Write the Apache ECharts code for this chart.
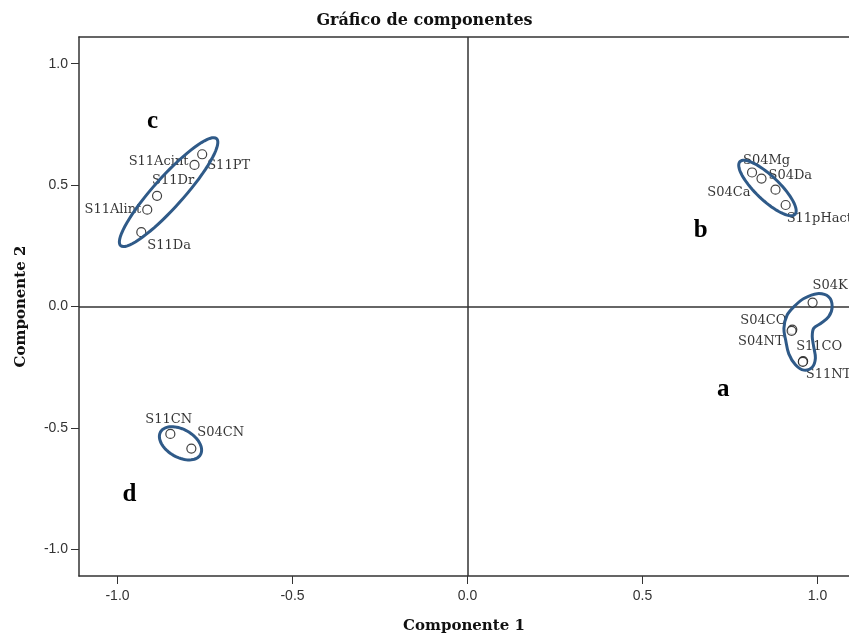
<!DOCTYPE html>
<html>
<head>
<meta charset="utf-8">
<script src="https://cdn.jsdelivr.net/npm/echarts@6/dist/echarts.min.js"></script>
<style>
html,body{margin:0;padding:0;background:#fff;}
#chart{width:849px;height:639px;}
</style>
</head>
<body>
<div id="chart"></div>
<script>
// ---- data ----
const pointNames = ['S11PT','S11Acint','S11Dr','S11Alint','S11Da',
  'S04Mg','S04Da','S04Ca','S11pHact',
  'S04K','S04CO','S04NT','S11CO','S11NT',
  'S11CN','S04CN'];
const comp1 = [-0.758,-0.780,-0.887,-0.915,-0.932,
  0.813,0.840,0.880,0.909,
  0.986,0.928,0.926,0.959,0.958,
  -0.849,-0.789];
const comp2 = [0.627,0.583,0.456,0.399,0.306,
  0.552,0.527,0.481,0.418,
  0.016,-0.095,-0.100,-0.225,-0.228,
  -0.525,-0.585];
const tickValues = [-1.0,-0.5,0.0,0.5,1.0];
const groupLetters = ['c','b','a','d'];
const letterX = [-0.90,0.666,0.731,-0.966];
const letterY = [0.762,0.311,-0.344,-0.775];
// ellipse annotations (data space): center x, center y, half-major dx, dy, half-minor dx, dy
const ellipseCX = [-0.854, 0.857, -0.820];
const ellipseCY = [0.471, 0.488, -0.5635];
const ellipseAX = [0.137, 0.0786, 0.0569];
const ellipseAY = [0.2205, -0.1086, -0.0471];
const ellipseBX = [0.032, -0.0237, -0.020];
const ellipseBY = [-0.041, -0.0352, -0.0496];
// free-hand outline around group a (data space)
const blobX = [0.961,0.999,1.032,1.042,1.032,1.009,0.989,0.985,0.989,0.994,0.985,0.961,0.937,0.918,0.909,0.904,0.913,0.937];
const blobY = [0.033,0.053,0.040,-0.001,-0.042,-0.070,-0.090,-0.124,-0.165,-0.213,-0.250,-0.262,-0.240,-0.195,-0.138,-0.090,-0.036,0.005];

// ---- label placement (style) ----
const labelPlace = {
  'S11PT':['left',5,11], 'S11Acint':['right',-6,-3], 'S11Dr':['left',-5,-15],
  'S11Alint':['right',-6,0], 'S11Da':['left',6,13],
  'S04Mg':['left',-9,-12], 'S04Da':['left',7,-3], 'S04Ca':['right',-25,3], 'S11pHact':['left',1,14],
  'S04K':['left',0,-17], 'S04CO':['right',-6,-9], 'S04NT':['right',-8,11],
  'S11CO':['left',-7,-15], 'S11NT':['left',3,13],
  'S11CN':['left',-25,-14], 'S04CN':['left',6,-16]
};

const serif = '"DejaVu Serif", "Liberation Serif", serif';
const sans = '"Liberation Sans", Arial, sans-serif';
const outline = '#2f5a88';
const frame = {color:'#333', width:1.5};

const pts = pointNames.map((n,i)=>{
  const p = labelPlace[n];
  return {name:n, value:[comp1[i],comp2[i]],
    label:{align:p[0], offset:[p[1],p[2]]}};
});

const chart = echarts.init(document.getElementById('chart'), null, {renderer:'canvas'});
chart.setOption({
  animation:false,
  backgroundColor:'#fff',
  title:{text:'Gráfico de componentes', left:'center', top:8,
    textStyle:{fontFamily:serif, fontWeight:'bold', fontSize:16, color:'#111'}},
  grid:{left:79, right:0, top:37, bottom:49, containLabel:false},
  xAxis:[{type:'value', min:-1.11, max:1.09,
    name:'Componente 1', nameLocation:'middle', nameGap:43,
    nameTextStyle:{fontFamily:serif, fontWeight:'bold', fontSize:15, color:'#111'},
    axisLine:{show:true, onZero:false, lineStyle:frame},
    axisTick:{show:true, length:8, customValues:tickValues, lineStyle:{color:'#333'}},
    axisLabel:{customValues:tickValues, margin:13, fontFamily:sans, fontSize:14, color:'#333',
      formatter:v=>v.toFixed(1)},
    splitLine:{show:false}},
   {type:'value', position:'top', min:-1.11, max:1.09,
    axisLine:{show:true, onZero:false, lineStyle:frame},
    axisTick:{show:false}, axisLabel:{show:false}, splitLine:{show:false}}],
  yAxis:{type:'value', min:-1.11, max:1.11,
    name:'Componente 2', nameLocation:'middle', nameGap:50, nameRotate:90,
    nameTextStyle:{fontFamily:serif, fontWeight:'bold', fontSize:15, color:'#111'},
    axisLine:{show:true, onZero:false, lineStyle:frame},
    axisTick:{show:true, length:8, customValues:tickValues, lineStyle:{color:'#333'}},
    axisLabel:{customValues:tickValues, margin:11, fontFamily:sans, fontSize:14, color:'#333',
      formatter:v=>v.toFixed(1)},
    splitLine:{show:false}},
  series:[
    {type:'scatter', data:pts, symbol:'circle', symbolSize:9, z:5,
      itemStyle:{color:'#fff', borderColor:'#111', borderWidth:1.2},
      label:{show:true, position:'inside', formatter:'{b}', verticalAlign:'middle',
        fontFamily:serif, fontSize:13, color:'#000'},
      markLine:{silent:true, symbol:'none', label:{show:false},
        lineStyle:{color:'#333', width:1.5, type:'solid'},
        data:[{xAxis:0},{yAxis:0}]}
    },
    {type:'custom', z:6, silent:true,
      data:ellipseCX.map((c,i)=>[c, ellipseCY[i], ellipseAX[i], ellipseAY[i], ellipseBX[i], ellipseBY[i]]),
      renderItem:function(params, api){
        const cx=api.value(0), cy=api.value(1), ax=api.value(2), ay=api.value(3), bx=api.value(4), by=api.value(5);
        const points=[];
        for(let k=0;k<72;k++){
          const t=k/72*Math.PI*2;
          points.push(api.coord([cx+ax*Math.cos(t)+bx*Math.sin(t), cy+ay*Math.cos(t)+by*Math.sin(t)]));
        }
        return {type:'polygon', shape:{points:points}, style:{fill:null, stroke:outline, lineWidth:3}};
      }
    },
    {type:'custom', z:6, silent:true,
      data:[0],
      renderItem:function(params, api){
        const points=blobX.map((x,i)=>api.coord([x, blobY[i]]));
        return {type:'polygon', shape:{points:points, smooth:0.35}, style:{fill:null, stroke:outline, lineWidth:3}};
      }
    },
    {type:'custom', z:7, silent:true,
      data:groupLetters.map((l,i)=>[letterX[i], letterY[i], l]),
      renderItem:function(params, api){
        const p=api.coord([api.value(0), api.value(1)]);
        return {type:'text', x:p[0], y:p[1], style:{text:groupLetters[params.dataIndex], fontFamily:'"Liberation Serif", serif',
          fontWeight:'bold', fontSize:25, fill:'#000', align:'center', verticalAlign:'middle'}};
      }
    }
  ]
});
</script>
</body>
</html>
